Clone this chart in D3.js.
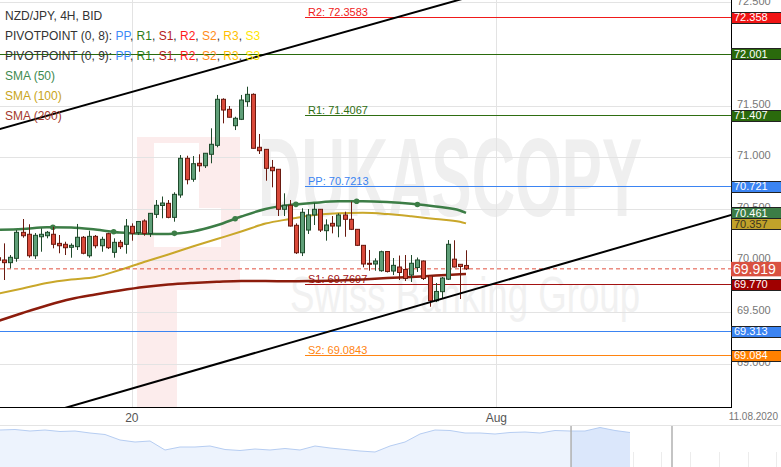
<!DOCTYPE html>
<html><head><meta charset="utf-8">
<script src="https://cdn.jsdelivr.net/npm/d3@7"></script>
<style>html,body{margin:0;padding:0;background:#fff;overflow:hidden}svg{display:block;font-family:Arial,"Liberation Sans",sans-serif}</style>
</head><body><svg id="c" width="781" height="467"></svg>
<script>
// ---------------- DATA ----------------
const firstCandleIndex = -1;
// [open, high, low, close]
const ohlc = [
[70.027,70.053,69.985,70.002],
[70.005,70.166,69.811,69.979],
[69.979,70.053,69.924,70.031],
[70.021,70.295,69.988,70.273],
[70.273,70.402,70.221,70.240],
[70.254,70.351,70.027,70.046],
[70.046,70.266,70.015,70.244],
[70.230,70.312,70.085,70.254],
[70.240,70.286,70.215,70.273],
[70.254,70.327,70.118,70.157],
[70.166,70.247,70.070,70.143],
[70.157,70.182,70.053,70.124],
[70.128,70.166,70.027,70.147],
[70.134,70.354,70.102,70.225],
[70.225,70.237,70.060,70.070],
[70.046,70.289,70.027,70.234],
[70.234,70.247,70.118,70.143],
[70.143,70.230,70.085,70.205],
[70.260,70.269,70.111,70.124],
[70.079,70.215,70.027,70.176],
[70.176,70.198,70.111,70.134],
[70.157,70.402,70.066,70.334],
[70.331,70.360,70.192,70.263],
[70.271,70.383,70.247,70.378],
[70.383,70.399,70.240,70.261],
[70.261,70.460,70.228,70.457],
[70.447,70.586,70.412,70.535],
[70.533,70.620,70.409,70.557],
[70.554,70.586,70.409,70.418],
[70.418,70.661,70.376,70.641],
[70.635,71.022,70.608,70.990],
[70.990,71.015,70.738,70.783],
[70.787,71.012,70.763,70.938],
[70.942,71.029,70.860,70.918],
[70.918,71.041,70.896,71.039],
[71.029,71.281,70.942,71.126],
[71.116,71.604,71.097,71.562],
[71.562,71.572,71.329,71.458],
[71.465,71.497,71.386,71.388],
[71.306,71.393,71.264,71.378],
[71.368,71.604,71.361,71.555],
[71.539,71.684,71.490,71.610],
[71.610,71.620,71.085,71.087],
[71.097,71.226,71.032,71.064],
[71.077,71.080,70.773,70.893],
[70.903,70.974,70.709,70.870],
[70.884,70.886,70.431,70.496],
[70.496,70.651,70.431,70.535],
[70.535,70.586,70.329,70.334],
[70.341,70.360,70.063,70.075],
[70.075,70.506,70.043,70.467],
[70.295,70.499,70.257,70.441],
[70.441,70.557,70.344,70.496],
[70.496,70.499,70.276,70.295],
[70.289,70.399,70.192,70.344],
[70.360,70.431,70.263,70.334],
[70.334,70.457,70.225,70.441],
[70.441,70.473,70.230,70.399],
[70.399,70.570,70.295,70.302],
[70.302,70.305,70.140,70.147],
[70.147,70.150,69.934,69.966],
[69.973,70.102,69.901,69.963],
[69.966,70.021,69.901,69.995],
[69.901,70.095,69.891,70.085],
[70.087,70.092,69.884,69.893],
[69.898,70.024,69.859,69.953],
[69.937,70.048,69.811,69.884],
[69.913,70.053,69.801,69.826],
[69.859,70.053,69.792,69.973],
[69.932,70.029,69.889,70.005],
[69.995,70.000,69.811,69.826],
[69.850,69.850,69.552,69.610],
[69.610,69.782,69.597,69.700],
[69.698,69.840,69.627,69.830],
[69.819,70.198,69.811,70.157],
[70.013,70.196,69.932,69.937],
[69.963,69.963,69.627,69.942],
[69.952,70.099,69.908,69.919]
];
const xTickIndex = [21, 81];
const xTickLabels = ["20", "Aug"];
const yTicks = [69.0, 69.5, 70.0, 70.5, 71.0, 71.5, 72.0, 72.5];
const smaIndex = [-1, 3, 7, 11, 15, 19, 23, 27, 31, 35, 39, 43, 47, 51, 55, 59, 63, 67, 71, 75, 76];
const sma50  = [70.297,70.305,70.322,70.320,70.300,70.271,70.260,70.257,70.281,70.341,70.426,70.499,70.539,70.559,70.573,70.574,70.567,70.550,70.523,70.484,70.462];
const sma100 = [69.680,69.729,69.782,69.816,69.840,69.908,69.985,70.058,70.135,70.208,70.281,70.358,70.402,70.441,70.458,70.462,70.450,70.428,70.402,70.376,70.360];
const sma200 = [69.414,69.491,69.564,69.627,69.670,69.709,69.743,69.767,69.782,69.793,69.801,69.801,69.798,69.801,69.806,69.816,69.830,69.840,69.854,69.866,69.869];
const sma50MarkerIndex = [8, 18, 28, 38, 48, 58, 68];
const pivotNames  = ["R2", "R1", "PP", "S1", "S2"];
const pivotValues = [72.3583, 71.4067, 70.7213, 69.7697, 69.0843];
const pivotColors = ["#f01a1a", "#2f6e12", "#3b84f2", "#a31212", "#ff8410"];
const pivotStartIndex = 49.5;
const wideLevelValues = [72.001, 69.313];
const wideLevelColors = ["#2a6a0c", "#3b84f2"];
const currentPrice = 69.919;
const trendUpper = [[-1, 71.269], [120, 73.274]];
const trendLower = [[-1, 68.384], [120, 70.447]];
const boxValues = [72.358, 72.001, 71.407, 70.721, 70.461, 70.357, 69.770, 69.313, 69.084];
const boxColors = ["#f01414", "#2a6a0c", "#2a6a0c", "#3b84f2", "#3c7d46", "#c1a22a", "#a00000", "#3b84f2", "#ff8000"];
const boxText   = ["#fff", "#fff", "#fff", "#fff", "#fff", "#3a3420", "#fff", "#fff", "#fff"];
const navValues = [72.40,72.46,72.28,72.40,72.22,72.28,72.04,71.86,71.20,70.96,71.08,70.00,70.36,70.36,70.48,70.06,69.94,70.12,70.00,70.18,70.00,70.48,70.24,70.06,69.88,69.76,70.48,70.96,71.92,72.40,72.34,72.04,72.04,71.92,72.10,72.16,72.04,72.34,72.28,72.28,72.70,72.34,72.10];
const navSelection = [38.07, 42];
const navWindowEdges = [38.07, 44.8];
const navTickStep = 1.9167;
const dateLabel = "11.08.2020";
const legendTitle = "NZD/JPY, 4H, BID";

// ---------------- CHART ----------------
const svg = d3.select("#c");
const W = 731, H = 407;
const x = d3.scaleLinear().domain([-0.708, 119.62]).range([0, W]);
const y = d3.scaleLinear().domain([68.5804, 72.5242]).range([H, 0]);

const defs = svg.append("defs");
defs.append("clipPath").attr("id", "plot").append("rect").attr("x", 0).attr("y", 0).attr("width", W).attr("height", H);

// watermark
const wm = svg.append("g").attr("clip-path", "url(#plot)");
const pink = "#fcecec";
[[137,137,17,270],[154,247,23,160],[177,247,63,43],[137,137,103,6],[199,137,41,71],[221,208,19,39]].forEach(r=>{
  wm.append("rect").attr("x", r[0]).attr("y", r[1]).attr("width", r[2]).attr("height", r[3]).attr("fill", pink);
});
wm.append("text").attr("x", 258).attr("y", 216).attr("font-size", 112).attr("font-weight", "bold")
  .attr("fill", "#efefef").attr("textLength", 384).attr("lengthAdjust", "spacingAndGlyphs").text("DUKASCOPY");
wm.append("text").attr("x", 290).attr("y", 312).attr("font-size", 50)
  .attr("fill", "#f1f1f1").attr("textLength", 350).attr("lengthAdjust", "spacingAndGlyphs").text("Swiss Banking Group");

// grid
const grid = svg.append("g").attr("clip-path", "url(#plot)");
grid.selectAll("line.h").data(yTicks).join("line")
  .attr("x1", 0).attr("x2", W).attr("y1", d => Math.round(y(d)) + 0.5).attr("y2", d => Math.round(y(d)) + 0.5)
  .attr("stroke", "#e3e3e3").attr("stroke-width", 1);
grid.selectAll("line.v").data(xTickIndex).join("line")
  .attr("y1", 0).attr("y2", H).attr("x1", d => Math.round(x(d)) + 0.5).attr("x2", d => Math.round(x(d)) + 0.5)
  .attr("stroke", "#e3e3e3").attr("stroke-width", 1);

const plot = svg.append("g").attr("clip-path", "url(#plot)");

// wide levels
wideLevelValues.forEach((v, i) => {
  plot.append("line").attr("x1", 0).attr("x2", W).attr("y1", Math.round(y(v)) + 0.5).attr("y2", Math.round(y(v)) + 0.5)
    .attr("stroke", wideLevelColors[i]).attr("stroke-width", 1);
});
// pivots
pivotValues.forEach((v, i) => {
  const yy = Math.round(y(v)) + 0.5;
  plot.append("line").attr("x1", x(pivotStartIndex)).attr("x2", W).attr("y1", yy).attr("y2", yy)
    .attr("stroke", pivotColors[i]).attr("stroke-width", 1);
  plot.append("text").attr("x", x(pivotStartIndex) + 3).attr("y", yy - 2).attr("font-size", 11)
    .attr("fill", pivotColors[i]).text(pivotNames[i] + ": " + v.toFixed(4));
});

// SMAs
const smaLine = d3.line().x((d, i) => x(smaIndex[i])).y(d => y(d)).curve(d3.curveMonotoneX);
plot.append("path").attr("d", smaLine(sma200)).attr("fill", "none").attr("stroke", "#8c1c0c").attr("stroke-width", 2.5);
plot.append("path").attr("d", smaLine(sma100)).attr("fill", "none").attr("stroke", "#c9a72a").attr("stroke-width", 2);
plot.append("path").attr("d", smaLine(sma50)).attr("fill", "none").attr("stroke", "#3c7d46").attr("stroke-width", 2.5);
// markers on SMA50 (interpolated location of the drawn path via the curve)
const smaPath = plot.select("path:last-of-type").node();
const interp50 = d3.scaleLinear().domain(smaIndex).range(sma50);
plot.selectAll("circle.m").data(sma50MarkerIndex).join("circle")
  .attr("cx", d => x(d)).attr("cy", d => y(interp50(d))).attr("r", 2.8).attr("fill", "#3c7d46");

// current price dashed line
plot.append("line").attr("x1", 0).attr("x2", W).attr("y1", y(currentPrice)).attr("y2", y(currentPrice))
  .attr("stroke", "#e0503f").attr("stroke-width", 1).attr("stroke-dasharray", "4,3");

// candles
const bw = 4;
const cg = plot.append("g");
ohlc.forEach((d, i) => {
  const k = firstCandleIndex + i;
  const [o, h, l, c] = d;
  const up = c >= o;
  const cx = Math.round(x(k)) + 0.5;
  const stroke = up ? "#1f4a2b" : "#6a1a10";
  const fill = up ? "#5f9f78" : "#d9493a";
  cg.append("line").attr("x1", cx).attr("x2", cx).attr("y1", y(h)).attr("y2", y(l)).attr("stroke", stroke).attr("stroke-width", 1);
  const top = y(Math.max(o, c)), bot = y(Math.min(o, c));
  cg.append("rect").attr("x", cx - bw / 2).attr("y", top).attr("width", bw).attr("height", Math.max(1, bot - top))
    .attr("fill", fill).attr("stroke", stroke).attr("stroke-width", 1);
});

// trend lines
[trendUpper, trendLower].forEach(t => {
  plot.append("line").attr("x1", x(t[0][0])).attr("y1", y(t[0][1])).attr("x2", x(t[1][0])).attr("y2", y(t[1][1]))
    .attr("stroke", "#000").attr("stroke-width", 2);
});

// legend
const lg = svg.append("g").attr("font-size", 12);
lg.append("text").attr("x", 5).attr("y", 20).attr("fill", "#333").text(legendTitle);
const pivLegend = [["PP","#3d8af7"],["R1","#2e7d1a"],["S1","#b52020"],["R2","#ff1a1a"],["S2","#ff8c1a"],["R3","#ffbf00"],["S3","#ffe600"]];
["PIVOTPOINT (0, 8): ", "PIVOTPOINT (0, 9): "].forEach((t, r) => {
  const tx = lg.append("text").attr("x", 5).attr("y", 40 + r * 20).attr("fill", "#333");
  tx.append("tspan").text(t);
  pivLegend.forEach((p, i) => {
    tx.append("tspan").attr("fill", p[1]).text(p[0]);
    if (i < pivLegend.length - 1) tx.append("tspan").attr("fill", "#333").text(", ");
  });
});
[["SMA (50)", "#3e8a4f"], ["SMA (100)", "#c9a420"], ["SMA (200)", "#a33a2c"]].forEach((s, i) => {
  lg.append("text").attr("x", 5).attr("y", 80 + i * 20).attr("fill", s[1]).text(s[0]);
});

// borders
svg.append("line").attr("x1", W + 0.5).attr("x2", W + 0.5).attr("y1", 0).attr("y2", H + 1).attr("stroke", "#000").attr("stroke-width", 1);
svg.append("line").attr("x1", 0).attr("x2", W + 1).attr("y1", H + 0.5).attr("y2", H + 0.5).attr("stroke", "#000").attr("stroke-width", 1);

// y tick labels
svg.selectAll("text.yt").data(yTicks).join("text")
  .attr("x", 737).attr("y", d => y(d) + 2).attr("font-size", 11).attr("fill", "#777")
  .text(d => d3.format(".3f")(d));

// right boxes
boxValues.forEach((v, i) => {
  const yy = y(v);
  svg.append("rect").attr("x", 731.5).attr("y", Math.round(yy - 5.5) + 0.5).attr("width", 52).attr("height", 11)
    .attr("fill", boxColors[i]).attr("stroke", "#222").attr("stroke-width", 1);
  svg.append("text").attr("x", 734).attr("y", yy + 4).attr("font-size", 11).attr("fill", boxText[i]).text(v.toFixed(3));
});
{
  const yy = y(currentPrice);
  svg.append("rect").attr("x", 731).attr("y", yy - 7).attr("width", 50).attr("height", 14.5).attr("fill", "#d95140");
  svg.append("text").attr("x", 733).attr("y", yy + 5).attr("font-size", 14).attr("fill", "#fff").text(currentPrice.toFixed(3));
}

// x labels
svg.selectAll("text.xt").data(xTickIndex).join("text")
  .attr("x", d => x(d)).attr("y", 422).attr("text-anchor", "middle").attr("font-size", 12).attr("fill", "#555")
  .text((d, i) => xTickLabels[i]);
svg.append("text").attr("x", 778).attr("y", 420).attr("text-anchor", "end").attr("font-size", 10).attr("fill", "#777").text(dateLabel);

// navigator
const nx = d3.scaleLinear().domain([0, 42]).range([0, 630]);
const ny = d3.scaleLinear().domain([68.5, 73.0]).range([462.5, 425]);
const nav = svg.append("g");
nav.append("line").attr("x1", 0).attr("x2", 781).attr("y1", 425.5).attr("y2", 425.5).attr("stroke", "#e4e4e4");
const ticks = d3.range(1, 28).map(i => i * navTickStep);
nav.selectAll("line.nt").data(ticks).join("line")
  .attr("x1", d => Math.round(nx(d)) + 0.5).attr("x2", d => Math.round(nx(d)) + 0.5).attr("y1", 452).attr("y2", 467)
  .attr("stroke", "#ececec");
const area = d3.area().x((d, i) => nx(i)).y0(467).y1(d => ny(d));
nav.append("path").attr("d", area(navValues)).attr("fill", "#edf3fd");
const selVals = navValues.map((d, i) => [i, d]).filter(p => p[0] >= Math.floor(navSelection[0]));
const selArea = d3.area().x(p => nx(Math.max(p[0], navSelection[0]))).y0(467).y1(p => ny(p[1]));
nav.append("path").attr("d", selArea(selVals)).attr("fill", "#dbe7fb");
nav.append("path").attr("d", d3.line().x((d, i) => nx(i)).y(d => ny(d))(navValues)).attr("fill", "none").attr("stroke", "#b6cdf2").attr("stroke-width", 1);
navWindowEdges.forEach(e => {
  nav.append("line").attr("x1", nx(e)).attr("x2", nx(e)).attr("y1", 426).attr("y2", 467).attr("stroke", "#b0b0b0").attr("stroke-width", 1.5);
});
</script></body></html>
